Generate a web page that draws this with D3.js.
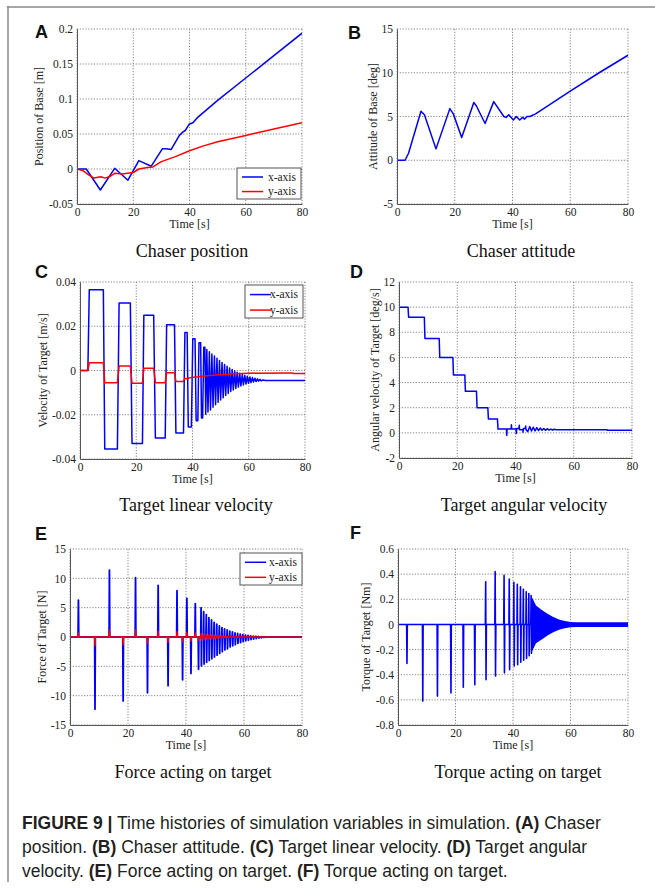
<!DOCTYPE html>
<html>
<head>
<meta charset="utf-8">
<script src="https://cdn.jsdelivr.net/npm/d3@7"></script>
<style>
    body { margin: 0; background: #fff; }
    svg { display: block; }
    .tick text { font-family: "Liberation Serif", "Times New Roman", serif; font-size: 11.5px; fill: #222; }
    .axis-label { font-family: "Liberation Serif", "Times New Roman", serif; font-size: 12px; fill: #222; }
    .panel-title { font-family: "Liberation Serif", "Times New Roman", serif; font-size: 18px; fill: #111; }
    .panel-letter { font-family: "Liberation Sans", Arial, sans-serif; font-size: 18px; font-weight: bold; fill: #111; }
    .legend text { font-family: "Liberation Serif", "Times New Roman", serif; font-size: 11.5px; fill: #222; }
    .caption { font-family: "Liberation Sans", Arial, sans-serif; font-size: 17.5px; fill: #231f20; }
</style>
</head>
<body>
<svg id="fig" width="655" height="893"></svg>
<script>
// ---- shared axis data ----
const timeTicks = [0, 20, 40, 60, 80];
const timeTickLabels = ['0', '20', '40', '60', '80'];

// ---- A: chaser position ----
const aTimeX = [0, 3.3, 8.3, 13.4, 18.1, 22.0, 26.4, 30.4, 31.6, 33.5, 36.4, 37.7, 38.5, 39.9, 41.2, 42.7, 50, 60, 70, 80];
const aValX = [0, 0, -0.030, 0.001, -0.016, 0.012, 0.004, 0.029, 0.029, 0.028, 0.048, 0.053, 0.055, 0.064, 0.066, 0.073, 0.098, 0.130, 0.162, 0.194];
const aTimeY = [0, 2, 4, 6, 8.5, 10, 12, 13.5, 16, 20, 22, 25, 27, 30, 35, 40, 45, 50, 60, 70, 80];
const aValY = [0, -0.002, -0.008, -0.013, -0.011, -0.013, -0.010, -0.006, -0.007, -0.005, 0, 0.002, 0.003, 0.0105, 0.0177, 0.026, 0.033, 0.039, 0.048, 0.057, 0.066];
const aTicks = [-0.05, 0, 0.05, 0.1, 0.15, 0.2];
const aTickLabels = ['-0.05', '0', '0.05', '0.1', '0.15', '0.2'];

// ---- B: chaser attitude ----
const bTime = [0, 2.8, 4, 8.3, 9.5, 13.5, 18.3, 19.5, 22.4, 26.6, 27.5, 30.5, 33.5, 37, 37.8, 38.7, 40.3, 41.3, 42.5, 43.5, 44.2, 45, 46, 48, 60, 70, 80];
const bVal = [0, 0, 0.8, 5.6, 5.2, 1.3, 5.9, 5.3, 2.6, 6.6, 6.2, 4.2, 6.7, 5.0, 4.9, 5.2, 4.6, 5.0, 4.6, 4.9, 4.7, 5.0, 5.0, 5.3, 7.9, 10.0, 12.0];
const bTicks = [-5, 0, 5, 10, 15];
const bTickLabels = ['-5', '0', '5', '10', '15'];

// ---- C: target linear velocity ----
const cTimeX = [0, 2.8, 3.3, 8.3, 8.8, 13.3, 13.9, 17.9, 18.5, 22.2, 22.7, 26.2, 26.8, 30.3, 30.8, 33.6, 34.1, 36.8, 37.3, 38.1, 38.5, 39.6, 40.1, 40.9, 41.3, 41.9, 42.3, 42.9, 43.2, 43.6, 44.0, 44.4, 44.7,
    45.1, 45.5, 46.0, 46.4, 46.9, 47.3, 47.8, 48.2, 48.7, 49.1, 49.6, 50.0, 50.5, 50.9, 51.4, 51.8, 52.3, 52.7, 53.2, 53.6, 54.1, 54.5, 55.0, 55.4, 55.9, 56.3, 56.8, 57.2, 57.7, 58.1, 58.6, 59.0,
    59.5, 59.9, 60.4, 60.8, 61.3, 61.7, 62.2, 62.6, 63.1, 63.5, 64.0, 64.4, 65, 66, 80];
const cValX = [0, 0, 0.0365, 0.0365, -0.0355, -0.0355, 0.0305, 0.0305, -0.033, -0.033, 0.025, 0.025, -0.0305, -0.0305, 0.0207, 0.0207, -0.0283, -0.0283, 0.0172, 0.0172, -0.0255, -0.0255, 0.0143, 0.0143, -0.0227, -0.0227, 0.0125, 0.0125, -0.0215, -0.0215, 0.0105, 0.0105, -0.0198,
    0.0095, -0.0188, 0.0085, -0.0178, 0.0075, -0.0166, 0.0065, -0.0155, 0.0055, -0.0144, 0.0045, -0.0133, 0.0036, -0.0123, 0.0027, -0.0113, 0.0019, -0.0104, 0.0011, -0.0095, 0.0004, -0.0088, -0.0002, -0.0081, -0.0008, -0.0075, -0.0013, -0.0070, -0.0018, -0.0065, -0.0022, -0.0061,
    -0.0026, -0.0058, -0.0029, -0.0055, -0.0032, -0.0052, -0.0035, -0.0050, -0.0038, -0.0048, -0.0040, -0.0047, -0.0043, -0.0045, -0.0045];
const cTimeY = [0, 2.8, 3.3, 8.3, 8.8, 13.3, 13.9, 17.9, 18.5, 22.2, 22.7, 26.2, 26.8, 30.3, 30.8, 33.6, 34.1, 36.8, 37.3, 38.2, 38.6, 40, 42, 45, 50, 55, 60, 75.5, 76, 80];
const cValY = [0, 0, 0.0035, 0.0035, -0.0055, -0.0055, 0.002, 0.002, -0.0058, -0.0058, 0.001, 0.001, -0.0055, -0.0055, -0.001, -0.001, -0.005, -0.005, -0.0035, -0.0038, -0.0035, -0.003, -0.0028, -0.0024, -0.0019, -0.0015, -0.0012, -0.0011, -0.0014, -0.0014];
const cTicks = [-0.04, -0.02, 0, 0.02, 0.04];
const cTickLabels = ['-0.04', '-0.02', '0', '0.02', '0.04'];

// ---- D: target angular velocity ----
const dTime = [0, 3.1, 3.3, 8.7, 8.9, 13.8, 14.0, 18.5, 18.7, 22.6, 22.8, 26.6, 26.8, 30.5, 30.7, 33.8, 34.0, 36.9, 37.0, 37.1, 38.5, 38.6, 38.7, 40.2, 40.3, 40.4, 41.2, 41.3, 41.4, 42.5, 42.6, 42.7, 43.4, 43.5, 43.6,
    44.2, 44.9, 45.5, 46.1, 46.7, 47.3, 47.9, 48.5, 49.1, 49.7, 50.3, 50.9, 51.5, 52.1, 52.7, 53.3, 54, 60, 71.5, 71.6, 80];
const dVal = [10, 10, 9.2, 9.2, 7.5, 7.5, 6.0, 6.0, 4.6, 4.6, 3.3, 3.3, 2.0, 2.0, 1.1, 1.1, 0.3, 0.3, -0.2, 0.3, 0.3, 0.65, 0.3, 0.3, -0.05, 0.35, 0.35, 0.6, 0.25, 0.25, 0.05, 0.35, 0.35, 0.55, 0.25,
    0.1, 0.5, 0.15, 0.45, 0.15, 0.42, 0.18, 0.38, 0.2, 0.35, 0.2, 0.33, 0.22, 0.3, 0.23, 0.29, 0.25, 0.25, 0.25, 0.2, 0.2];
const dTicks = [-2, 0, 2, 4, 6, 8, 10, 12];
const dTickLabels = ['-2', '0', '2', '4', '6', '8', '10', '12'];

// ---- E: force acting on target (impulse events: time, upward peak, downward peak) ----
const eEventT = [2.9, 8.5, 13.6, 18.2, 22.6, 26.6, 30.4, 33.7, 36.9, 38.7, 40.3, 41.6, 43.2, 44.2, 45.2, 46.1, 47.0, 47.9, 48.8, 49.7, 50.6, 51.5, 52.4, 53.3, 54.2,
    55.1, 56.0, 56.9, 57.8, 58.7, 59.6, 60.5, 61.4, 62.3, 63.2, 64.1, 65.0, 65.9, 66.8, 67.7];
const eUpX = [6.3, 0, 11.4, 0, 10.1, 0, 8.8, 0, 7.9, 0, 6.6, 0, 5.7, 0, 5.0, 4.3, 3.8, 3.3, 2.9, 2.5, 2.2, 1.9, 1.6, 1.4, 1.2,
    1.0, 0.85, 0.7, 0.6, 0.5, 0.4, 0.32, 0.26, 0.2, 0.16, 0.12, 0.09, 0.06, 0.04, 0.02];
const eDownX = [0, -12.3, 0, -10.9, 0, -9.5, 0, -8.3, 0, -7.3, 0, -6.2, 0, -5.5, -4.9, -4.6, -4.3, -4.0, -3.7, -3.4, -3.1, -2.8, -2.5, -2.2, -2.0,
    -1.7, -1.5, -1.3, -1.1, -0.95, -0.8, -0.65, -0.55, -0.45, -0.36, -0.28, -0.2, -0.14, -0.08, -0.04];
const eUpY = [0.7, 0, 1.2, 0, 1.2, 0, 1.0, 0, 0.9, 0, 0.8, 0, 0.7, 0, 0.6, 0.5, 0.45, 0.4, 0.35, 0.3, 0.25, 0.2, 0.15, 0.1, 0.06,
    0, 0, 0, 0, 0, 0, 0, 0, 0, 0, 0, 0, 0, 0, 0];
const eDownY = [0, -1.5, 0, -1.3, 0, -1.1, 0, -0.9, 0, -0.8, 0, -0.7, 0, -0.6, -0.5, -0.45, -0.4, -0.35, -0.3, -0.25, -0.2, -0.15, -0.12, -0.08, -0.05,
    0, 0, 0, 0, 0, 0, 0, 0, 0, 0, 0, 0, 0, 0, 0];
const eTicks = [-15, -10, -5, 0, 5, 10, 15];
const eTickLabels = ['-15', '-10', '-5', '0', '5', '10', '15'];

// ---- F: torque acting on target ----
const fEventT = [3.0, 8.5, 13.6, 18.3, 22.6, 26.6, 30.5, 33.8, 36.9, 38.7, 40.3, 41.5, 42.6, 43.6, 44.6, 45.5, 46.3];
const fUp = [0, 0, 0, 0, 0, 0, 0.34, 0.42, 0.39, 0.36, 0.335, 0.32, 0.30, 0.28, 0.26, 0.245, 0.23];
const fDown = [-0.31, -0.61, -0.57, -0.545, -0.50, -0.48, -0.44, -0.41, -0.385, -0.36, -0.33, -0.32, -0.30, -0.285, -0.27, -0.25, -0.23];
const fBandT = [46.5, 48, 50, 52, 54, 56, 58, 60, 62, 80];
const fBandUp = [0.22, 0.15, 0.115, 0.085, 0.06, 0.04, 0.028, 0.02, 0.018, 0.018];
const fBandLow = [-0.22, -0.15, -0.12, -0.088, -0.062, -0.042, -0.03, -0.022, -0.02, -0.02];
const fTicks = [-0.8, -0.6, -0.4, -0.2, 0, 0.2, 0.4, 0.6];
const fTickLabels = ['-0.8', '-0.6', '-0.4', '-0.2', '0', '0.2', '0.4', '0.6'];

// caption segments: [text, bold]
const captionLines = [
    [['FIGURE 9 |', true], [' Time histories of simulation variables in simulation. ', false], ['(A)', true], [' Chaser', false]],
    [['position. ', false], ['(B)', true], [' Chaser attitude. ', false], ['(C)', true], [' Target linear velocity. ', false], ['(D)', true], [' Target angular', false]],
    [['velocity. ', false], ['(E)', true], [' Force acting on target. ', false], ['(F)', true], [' Torque acting on target.', false]]
];

const BLUE = '#0000ff';
const RED = '#ff0000';

// helpers
const zip = (t, v) => t.map((d, i) => [d, v[i]]);

function impulsePoints(times, ups, downs, w) {
    const pts = [[0, 0]];
    times.forEach((t, i) => {
        pts.push([t - w, 0], [t, ups[i]], [t + w, downs[i]], [t + 2 * w, 0]);
    });
    pts.push([80, 0]);
    return pts;
}

const svg = d3.select('#fig');
svg.append('rect').attr('width', 655).attr('height', 893).attr('fill', '#fff');

// outer frame (top and left rules)
svg.append('line').attr('x1', 7).attr('x2', 655).attr('y1', 7).attr('y2', 7)
    .attr('stroke', '#8a8a8a').attr('stroke-width', 1.5);
svg.append('line').attr('x1', 8).attr('x2', 8).attr('y1', 6).attr('y2', 882)
    .attr('stroke', '#8a8a8a').attr('stroke-width', 1.5);

function drawPanel(p) {
    const g = svg.append('g');
    const x = d3.scaleLinear().domain([0, 80]).range([p.x0, p.x1]);
    const y = d3.scaleLinear().domain([p.ticks[0], p.ticks[p.ticks.length - 1]]).range([p.yBot, p.yTop]);

    // dotted grid incl. top/right box edges
    g.selectAll('line.gx').data(timeTicks).join('line')
        .attr('x1', d => x(d)).attr('x2', d => x(d))
        .attr('y1', p.yTop).attr('y2', p.yBot)
        .attr('stroke', '#777').attr('stroke-width', 0.9).attr('stroke-dasharray', '1.2,1.6');
    g.selectAll('line.gy').data(p.ticks).join('line')
        .attr('x1', p.x0).attr('x2', p.x1)
        .attr('y1', d => y(d)).attr('y2', d => y(d))
        .attr('stroke', '#777').attr('stroke-width', 0.9).attr('stroke-dasharray', '1.2,1.6');

    const clipId = 'clip' + p.letter;
    svg.append('clipPath').attr('id', clipId).append('rect')
        .attr('x', p.x0).attr('y', p.yTop - 2).attr('width', p.x1 - p.x0).attr('height', p.yBot - p.yTop + 4);
    const plot = g.append('g').attr('clip-path', `url(#${clipId})`);

    (p.bands || []).forEach(b => {
        plot.append('path')
            .datum(b.t.map((t, i) => [t, b.lo[i], b.hi[i]]))
            .attr('fill', b.color)
            .attr('d', d3.area().x(d => x(d[0])).y0(d => y(d[1])).y1(d => y(d[2])));
    });

    p.series.forEach(s => {
        plot.append('path')
            .datum(s.points)
            .attr('fill', 'none')
            .attr('stroke', s.color)
            .attr('stroke-width', s.width || 1.5)
            .attr('stroke-linejoin', 'round')
            .attr('d', d3.line().x(d => x(d[0])).y(d => y(d[1])));
    });

    // axes (solid left/bottom)
    g.append('g')
        .attr('transform', `translate(0,${p.yBot})`)
        .call(d3.axisBottom(x).tickValues(timeTicks).tickFormat((d, i) => timeTickLabels[i]).tickSize(0).tickPadding(4))
        .call(a => a.select('.domain').attr('stroke', '#555'));
    g.append('g')
        .attr('transform', `translate(${p.x0},0)`)
        .call(d3.axisLeft(y).tickValues(p.ticks).tickFormat((d, i) => p.tickLabels[i]).tickSize(0).tickPadding(4))
        .call(a => a.select('.domain').attr('stroke', '#555'));

    g.append('text').attr('class', 'axis-label')
        .attr('x', (p.x0 + p.x1) / 2).attr('y', p.yBot + 24)
        .attr('text-anchor', 'middle').text('Time [s]');
    g.append('text').attr('class', 'axis-label')
        .attr('transform', `translate(${p.ylabelX},${(p.yTop + p.yBot) / 2}) rotate(-90)`)
        .attr('text-anchor', 'middle').text(p.ylabel);

    g.append('text').attr('class', 'panel-title')
        .attr('x', p.titleX).attr('y', p.titleY)
        .attr('text-anchor', 'middle').text(p.title);
    g.append('text').attr('class', 'panel-letter')
        .attr('x', p.letterX).attr('y', p.letterY).text(p.letter);

    if (p.legend) {
        const L = p.legend;
        const lg = g.append('g').attr('class', 'legend');
        lg.append('rect')
            .attr('x', L.x).attr('y', L.y).attr('width', L.w).attr('height', L.h)
            .attr('fill', '#fff').attr('stroke', '#555').attr('stroke-width', 1);
        p.series.forEach((s, i) => {
            const ly = L.y + L.h * (i === 0 ? 0.29 : 0.76);
            lg.append('line')
                .attr('x1', L.x + 5).attr('x2', L.x + 26).attr('y1', ly).attr('y2', ly)
                .attr('stroke', s.color).attr('stroke-width', 1.5);
            lg.append('text')
                .attr('x', L.x + L.w - 5).attr('y', ly + 3.8)
                .attr('text-anchor', 'end').text(s.name);
        });
    }
}

const panels = [
    {
        letter: 'A', letterX: 35, letterY: 38,
        x0: 77, x1: 302, yTop: 29, yBot: 204,
        ticks: aTicks, tickLabels: aTickLabels,
        ylabel: 'Position of Base [m]', ylabelX: 43,
        title: 'Chaser position', titleX: 192, titleY: 257,
        legend: { x: 237, y: 168, w: 64, h: 31 },
        series: [
            { name: 'x-axis', color: BLUE, points: zip(aTimeX, aValX) },
            { name: 'y-axis', color: RED, points: zip(aTimeY, aValY) }
        ]
    },
    {
        letter: 'B', letterX: 348, letterY: 39,
        x0: 397, x1: 628, yTop: 29, yBot: 204,
        ticks: bTicks, tickLabels: bTickLabels,
        ylabel: 'Attitude of Base [deg]', ylabelX: 377,
        title: 'Chaser attitude', titleX: 521, titleY: 257,
        series: [{ name: 'attitude', color: BLUE, points: zip(bTime, bVal) }]
    },
    {
        letter: 'C', letterX: 35, letterY: 278,
        x0: 80, x1: 305, yTop: 282, yBot: 459,
        ticks: cTicks, tickLabels: cTickLabels,
        ylabel: 'Velocity of Target [m/s]', ylabelX: 47,
        title: 'Target linear velocity', titleX: 196, titleY: 511,
        legend: { x: 245, y: 285, w: 58, h: 33 },
        series: [
            { name: 'x-axis', color: BLUE, points: zip(cTimeX, cValX) },
            { name: 'y-axis', color: RED, points: zip(cTimeY, cValY) }
        ]
    },
    {
        letter: 'D', letterX: 350, letterY: 278,
        x0: 399, x1: 632, yTop: 282, yBot: 458,
        ticks: dTicks, tickLabels: dTickLabels,
        ylabel: 'Angular velocity of Target [deg/s]', ylabelX: 379,
        title: 'Target angular velocity', titleX: 524, titleY: 511,
        series: [{ name: 'omega', color: BLUE, points: zip(dTime, dVal) }]
    },
    {
        letter: 'E', letterX: 35, letterY: 540,
        x0: 70, x1: 302, yTop: 549, yBot: 725,
        ticks: eTicks, tickLabels: eTickLabels,
        ylabel: 'Force of Target [N]', ylabelX: 46,
        title: 'Force acting on target', titleX: 193, titleY: 778,
        legend: { x: 240, y: 553, w: 62, h: 32 },
        series: [
            { name: 'x-axis', color: BLUE, width: 1.8, points: impulsePoints(eEventT, eUpX, eDownX, 0.12) },
            { name: 'y-axis', color: RED, width: 1.5, points: impulsePoints(eEventT, eUpY, eDownY, 0.12) }
        ]
    },
    {
        letter: 'F', letterX: 350, letterY: 539,
        x0: 398, x1: 628, yTop: 549, yBot: 725,
        ticks: fTicks, tickLabels: fTickLabels,
        ylabel: 'Torque of Target [Nm]', ylabelX: 370,
        title: 'Torque acting on target', titleX: 518, titleY: 778,
        bands: [{ color: BLUE, t: fBandT, lo: fBandLow, hi: fBandUp }],
        series: [{ name: 'torque', color: BLUE, width: 1.6, points: impulsePoints(fEventT, fUp, fDown, 0.12) }]
    }
];

panels.forEach(drawPanel);

// caption
const cap = svg.append('text').attr('class', 'caption');
captionLines.forEach((line, li) => {
    line.forEach((seg, si) => {
        const ts = cap.append('tspan')
            .attr('font-weight', seg[1] ? 'bold' : 'normal')
            .text(seg[0]);
        if (si === 0) ts.attr('x', 22).attr('y', 829 + li * 24);
    });
});
</script>
</body>
</html>
